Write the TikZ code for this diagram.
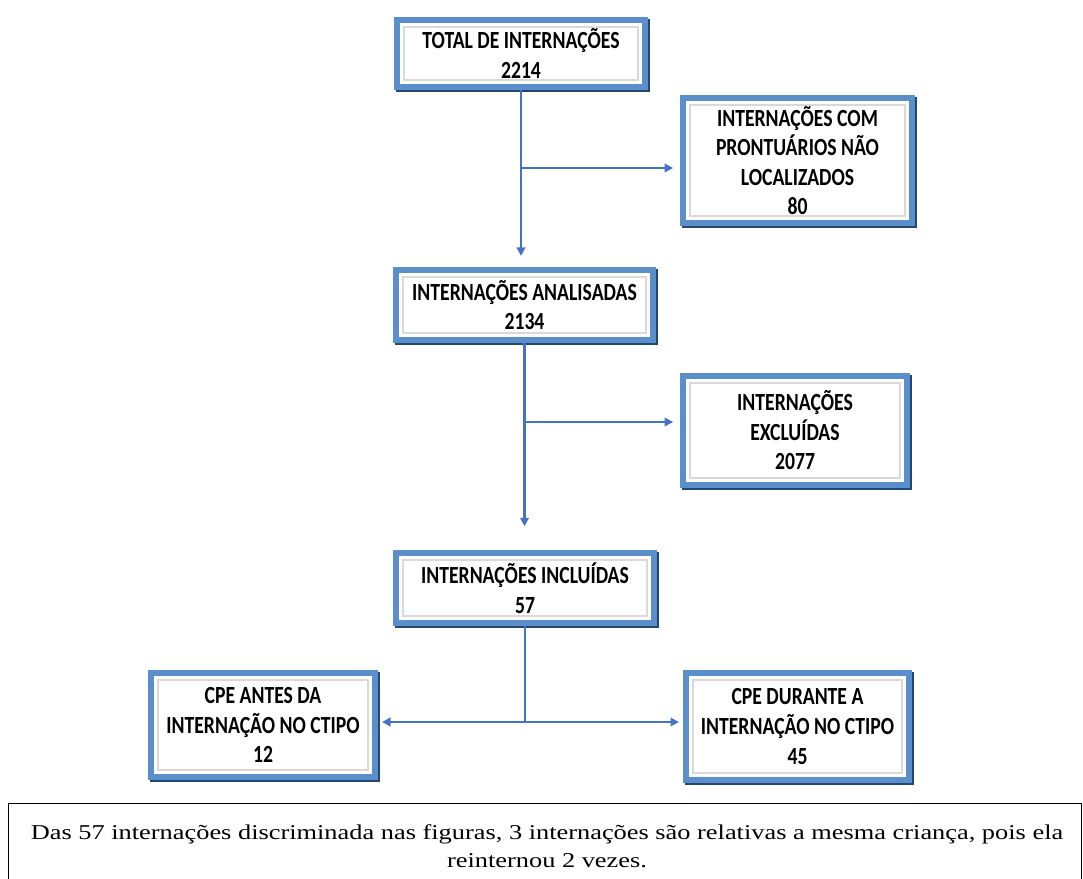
\documentclass[tikz,border=0pt]{standalone}
\usepackage{fontspec}
\usetikzlibrary{arrows.meta}
\setmainfont[FakeStretch=1.25]{Liberation Serif}
\newfontfamily\caixafont[FakeStretch=0.8]{Carlito}

\definecolor{linhaazul}{HTML}{4472C4}
\definecolor{moldura}{HTML}{5B8FCB}
\definecolor{molduraesc}{HTML}{24476E}

\tikzset{
  caixa/.style={draw=moldura, line width=4pt, fill=white, align=center,
    inner sep=0pt, font=\caixafont\bfseries\fontsize{17.5}{21}\selectfont,
    preaction={draw=molduraesc, line width=4pt, transform canvas={shift={(1.4pt,-1.4pt)}}},
    path picture={\draw[black!15, line width=0.8pt]
      ([shift={(5pt,-5pt)}]path picture bounding box.north west) rectangle
      ([shift={(-5pt,5pt)}]path picture bounding box.south east);}},
  seta/.style={linhaazul, line width=1.6pt, -{Triangle[length=6pt,width=6pt]}},
  liga/.style={linhaazul, line width=1.6pt}
}

\begin{document}
\begin{tikzpicture}[x=0.025cm, y=-0.025cm]
\useasboundingbox (0,0) rectangle (1083,879);

% caixas
\node[caixa, minimum width=6.2cm, minimum height=1.675cm] (total) at (521,53.5)
  {TOTAL DE INTERNAÇÕES\\2214};
\node[caixa, minimum width=5.725cm, minimum height=3.125cm] (semprontuario) at (797.5,160.5)
  {INTERNAÇÕES COM\\PRONTUÁRIOS NÃO\\LOCALIZADOS\\80};
\node[caixa, minimum width=6.425cm, minimum height=1.75cm] (analisadas) at (524.5,305)
  {INTERNAÇÕES ANALISADAS\\2134};
\node[caixa, minimum width=5.6cm, minimum height=2.725cm] (excluidas) at (795,430.5)
  {INTERNAÇÕES\\EXCLUÍDAS\\2077};
\node[caixa, minimum width=6.45cm, minimum height=1.75cm] (incluidas) at (525,588)
  {INTERNAÇÕES INCLUÍDAS\\57};
\node[caixa, minimum width=5.6cm, minimum height=2.6cm] (antes) at (263,725)
  {CPE ANTES DA\\INTERNAÇÃO NO CTIPO\\12};
\node[caixa, minimum width=5.575cm, minimum height=2.675cm] (durante) at (797.5,726.5)
  {CPE DURANTE A\\INTERNAÇÃO NO CTIPO\\45};

% ligacoes
\coordinate (ramo1) at (521,168);
\coordinate (ramo2) at (524.5,422);
\coordinate (juncao) at (525,722);

\draw[seta, shorten >=8pt] (total.south) -- (total.south |- analisadas.north);
\draw[seta, shorten >=5pt] (ramo1) -- (ramo1 -| semprontuario.west);
\draw[seta, shorten >=17pt] (analisadas.south) -- (analisadas.south |- incluidas.north);
\draw[seta, shorten >=5pt] (ramo2) -- (ramo2 -| excluidas.west);
\draw[liga] (incluidas.south) -- (juncao);
\draw[seta, shorten >=3pt] (juncao) -- (juncao -| antes.east);
\draw[seta, shorten >=3pt] (juncao) -- (juncao -| durante.west);

% nota
\draw[black, line width=0.8pt] (8.5,880) -- (8.5,803.5) -- (1081.5,803.5) -- (1081.5,880);
\node[align=center, font=\fontsize{15}{20}\selectfont] (nota) at (547,846)
  {Das 57 internações discriminada nas figuras, 3 internações são relativas a mesma criança, pois ela\\reinternou 2 vezes.};

\end{tikzpicture}
\end{document}
